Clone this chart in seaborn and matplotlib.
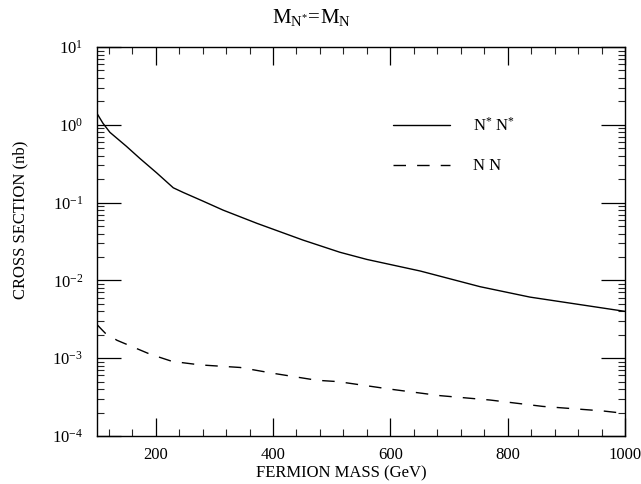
import matplotlib
matplotlib.use("Agg")
import matplotlib.pyplot as plt
import matplotlib.ticker as mticker
import seaborn as sns
import pandas as pd
import numpy as np

# ---- data ----
mass_nstar = [100, 110, 122, 150, 173, 202, 230, 247, 280, 315, 373, 451, 514, 560, 651, 753, 838, 1000]
xs_nstar = [1.4, 1.05, 0.8, 0.53, 0.37, 0.24, 0.155, 0.135, 0.105, 0.08, 0.054, 0.033, 0.023,
            0.0186, 0.0132, 0.0083, 0.0061, 0.0040]
mass_nn = [100, 114, 134, 190, 228, 276, 344, 400, 475, 511, 600, 685, 770, 860, 962, 1000]
xs_nn = [2.7e-3, 2.1e-3, 1.7e-3, 1.13e-3, 9.1e-4, 8.2e-4, 7.6e-4, 6.4e-4, 5.2e-4, 5.0e-4,
         4.0e-4, 3.3e-4, 2.9e-4, 2.4e-4, 2.1e-4, 1.95e-4]
series_labels = [r"N$^{*}$ N$^{*}$", "N N"]
x_ticks = [200, 400, 600, 800, 1000]
title_text = r"$\mathrm{M}_{\mathrm{N}^{*}}\!=\!\mathrm{M}_{\mathrm{N}}$"
xlabel_text = "FERMION MASS (GeV)"
ylabel_text = "CROSS SECTION (nb)"

sns.set_theme(style="white")
plt.rcParams["font.family"] = ["Liberation Serif", "DejaVu Serif"]
plt.rcParams["mathtext.fontset"] = "custom"
plt.rcParams["mathtext.rm"] = "Liberation Serif"
plt.rcParams["mathtext.it"] = "Liberation Serif:italic"
plt.rcParams["mathtext.bf"] = "Liberation Serif:bold"
plt.rcParams["text.color"] = "black"
plt.rcParams["axes.labelcolor"] = "black"

df1 = pd.DataFrame({"mass": mass_nstar, "xs": xs_nstar})
df2 = pd.DataFrame({"mass": mass_nn, "xs": xs_nn})

fig = plt.figure(figsize=(6.41, 4.84), dpi=100)
ax = fig.add_axes([97 / 641, 1 - 436 / 484, 528 / 641, 389 / 484])

sns.lineplot(data=df1, x="mass", y="xs", ax=ax, color="black", linewidth=1.0,
             label=series_labels[0], sort=False)
sns.lineplot(data=df2, x="mass", y="xs", ax=ax, color="black", linewidth=1.0,
             label=series_labels[1], sort=False)
ax.lines[1].set_dashes((9, 8))

ax.set_yscale("log")
ax.set_xlim(100, 1000)
ax.set_ylim(1e-4, 10)
ax.set_xticks(x_ticks)
ax.set_xticklabels([str(t) for t in x_ticks])
ax.xaxis.set_minor_locator(mticker.MultipleLocator(40))
ax.yaxis.set_major_locator(mticker.LogLocator(base=10, numticks=10))
ax.yaxis.set_minor_locator(mticker.LogLocator(base=10, subs=np.arange(2, 10), numticks=20))
ax.yaxis.set_minor_formatter(mticker.NullFormatter())

ax.tick_params(which="both", direction="in", top=True, right=True, bottom=True, left=True)
ax.tick_params(which="major", length=13, width=0.9, labelsize=12, colors="black", pad=8)
ax.tick_params(which="minor", length=5, width=0.8)
ax.tick_params(axis="y", which="major", length=17, pad=10)

for s in ax.spines.values():
    s.set_color("black")
    s.set_linewidth(1.0)

ax.set_xlabel(xlabel_text, fontsize=12, color="black")
ax.set_ylabel(ylabel_text, fontsize=12, color="black")
ax.xaxis.set_label_coords(0.462, -0.075)
ax.yaxis.set_label_coords(-0.13, 0.555)
fig.text(312 / 641, 1 - 17 / 484, title_text, ha="center", va="center", fontsize=15)

leg = ax.legend(loc="upper left", bbox_to_anchor=(0.532, 0.858), frameon=False,
                fontsize=12, handlelength=3.4, handletextpad=1.4, labelspacing=1.4)
for h in leg.get_lines():
    h.set_linewidth(1.0)
leg.get_lines()[1].set_dashes((9, 8))

fig.savefig("out.png", dpi=100)
